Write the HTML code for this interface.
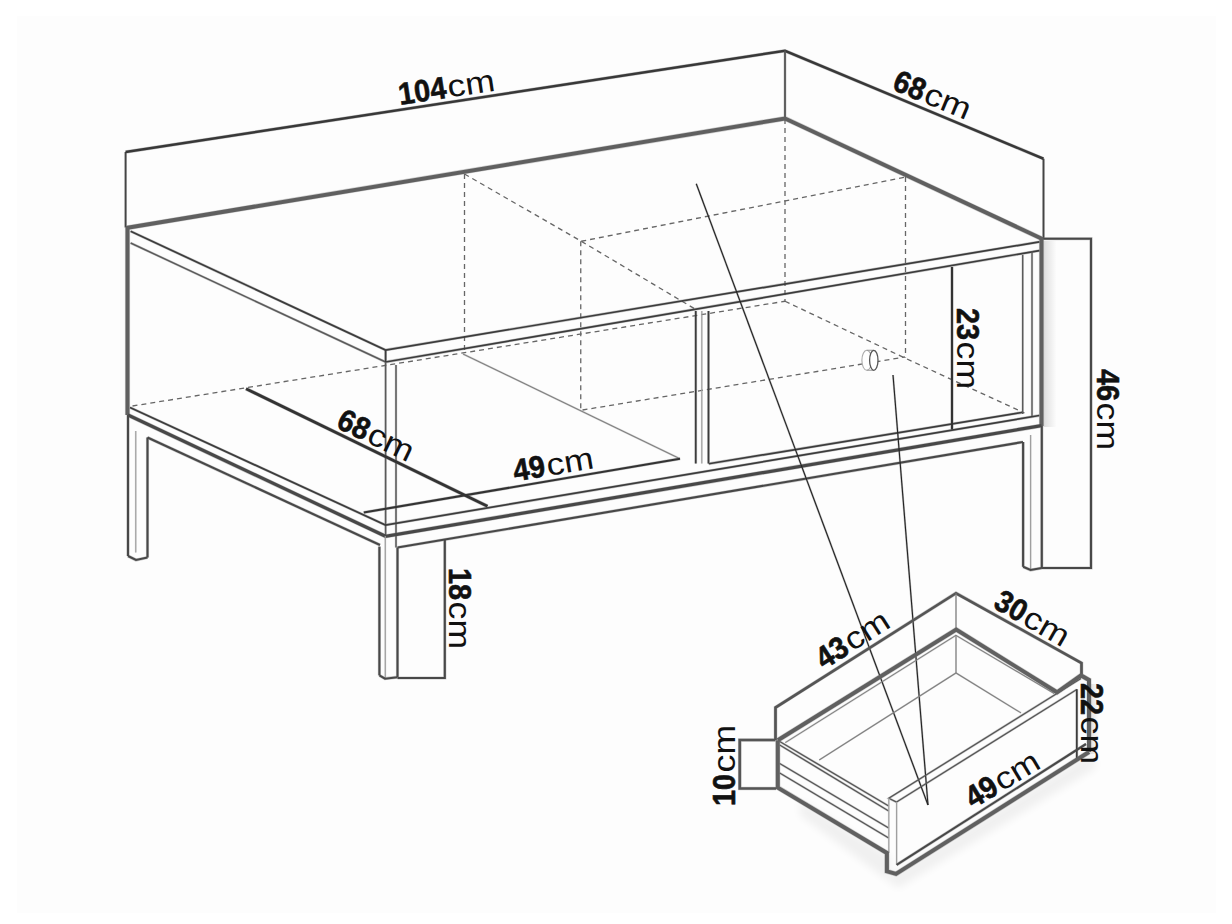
<!DOCTYPE html>
<html><head><meta charset="utf-8"><style>
html,body{margin:0;padding:0;background:#fff;}
svg{display:block;}
.thick{fill:none;stroke:#606060;stroke-width:4;stroke-linejoin:miter;}
.med{fill:none;stroke:#484848;stroke-width:2.1;}
.dbox{fill:none;stroke:#555;stroke-width:2.7;}
.hdbox{fill:none;stroke:#555;stroke-width:3.7;}
.dlight{fill:none;stroke:#808080;stroke-width:1.1;}
.hdlight{fill:none;stroke:#808080;stroke-width:2;}
.hlight{fill:none;stroke:#a0a0a0;stroke-width:2;}
.dim2{fill:none;stroke:#333;stroke-width:2.1;}
.hdim2{fill:none;stroke:#333;stroke-width:3.1;}
.post{fill:none;stroke:#5a5a5a;stroke-width:1.5;}
.hpost{fill:none;stroke:#5a5a5a;stroke-width:2.5;}
.vbox{fill:none;stroke:#444;stroke-width:1.7;}
.hvbox{fill:none;stroke:#444;stroke-width:2.7;}
.tbox{fill:none;stroke:#383838;stroke-width:2.5;stroke-linejoin:miter;}
.htbox{fill:none;stroke:#383838;stroke-width:3.5;}
.light{fill:none;stroke:#a0a0a0;stroke-width:1.2;}
.thin{fill:none;stroke:#3c3c3c;stroke-width:1.7;}
.thin2{fill:none;stroke:#555;stroke-width:1.8;}
.hair{fill:none;stroke:#555;stroke-width:1.3;}
.dash{fill:none;stroke:#666;stroke-width:1.3;stroke-dasharray:5 4;}
.dim{fill:none;stroke:#333;stroke-width:2.8;}
.frameB{fill:none;stroke:#484848;stroke-width:3.2;}
.lead{fill:none;stroke:#222;stroke-width:1.1;}
.hthick{fill:none;stroke:#606060;stroke-width:5.2;}
.hmed{fill:none;stroke:#484848;stroke-width:3.2;}
.hthin{fill:none;stroke:#3c3c3c;stroke-width:2.8;}
.hthin2{fill:none;stroke:#555;stroke-width:2.9;}
.hhair{fill:none;stroke:#555;stroke-width:2.4;}
.hdim{fill:none;stroke:#333;stroke-width:3.9;}
.hframeB{fill:none;stroke:#484848;stroke-width:4.3;}
.hlead{fill:none;stroke:#222;stroke-width:2.1;}
.t{font-family:"Liberation Sans",sans-serif;fill:#111;}
.tb{font-weight:bold;stroke:#111;}
</style></head><body>
<svg width="1232" height="924" viewBox="0 0 1232 924">
<rect width="1232" height="924" fill="#fff"/><rect x="17" y="16" width="1199" height="897" fill="#fdfdfd"/>
<defs><linearGradient id="gR" x1="0" x2="1" y1="0" y2="0"><stop offset="0" stop-color="#000" stop-opacity="0.13"/><stop offset="1" stop-color="#000" stop-opacity="0"/></linearGradient><filter id="blr" x="-20%" y="-20%" width="140%" height="140%"><feGaussianBlur stdDeviation="4"/></filter></defs>
<rect x="1043.5" y="241" width="13" height="186" fill="url(#gR)"/>
<rect x="1089" y="684" width="10" height="70" fill="url(#gR)"/>
<path d="M800,800L890,856L890,876L1092,752L1096,768L898,888L800,815Z" fill="#000" opacity="0.05" filter="url(#blr)"/>
<g opacity="0.28">
<path class="hvbox" d="M125.6,227.5L125.6,152"/>
<path class="hvbox" d="M1043.5,158.75L1043.5,239"/>
<path class="htbox" d="M125.6,152L785,50.8L1043.5,158.75"/>
<path class="hthin2" d="M785,50.6L785,118"/>
<path class="hthick" d="M126,228L785,118.5L1043.5,239.5"/>
<path class="hthick" d="M127.5,227.5L127.5,415"/>
<path class="hthick" d="M1041.5,239L1041.5,426"/>
<path class="hthin" d="M130.6,231.25L385.6,350L1039.4,241.9"/>
<path class="hpost" d="M130.6,243L385.6,362"/>
<path class="hthin" d="M385.6,362L1039.4,250.6"/>
<path class="hthin" d="M385.6,350L385.6,362"/>
<path class="hpost" d="M385.6,362L385.6,536"/>
<path class="hpost" d="M396,365L396,547.5"/>
<path class="hthin" d="M695.75,311L695.75,463.5"/>
<path class="hlight" d="M701.8,311L701.8,463.5"/>
<path class="hthin" d="M708.5,311L708.5,463.5"/>
<path class="hthin" d="M708.75,463.75L1022,412.5"/>
<path class="hdlight" d="M463,354L680,458.75"/>
<path class="hhair" d="M1022.7,254.9L1022.7,414"/>
<path class="hhair" d="M1032,251L1032,416.7"/>
<path class="hthin" d="M130,407.5L385.5,525L1039.3,415.5"/>
<path class="hframeB" d="M128,415L385.5,536.25L1041.5,425.7"/>
<path class="hmed" d="M147.5,437.5L380,545"/>
<path class="hmed" d="M397.5,547.5L1023,442"/>
<path class="hmed" d="M128,415L128,556"/>
<path class="hlight" d="M135.75,431L135.75,552.5"/>
<path class="hmed" d="M147.5,437.5L147.5,557.5"/>
<path class="hmed" d="M128,556L136,560L147.5,557.5"/>
<path class="hmed" d="M379.4,546.6L379.4,675.4"/>
<path class="hlight" d="M385.3,536L385.3,678"/>
<path class="hmed" d="M397.5,547.5L397.5,677"/>
<path class="hmed" d="M379.4,675.4L385,678.7L397.5,677.2"/>
<path class="hmed" d="M397.5,678L444.8,678L444.8,540"/>
<path class="hmed" d="M1041.8,426L1041.8,568"/>
<path class="hlight" d="M1030.6,435L1030.6,569.3"/>
<path class="hmed" d="M1023.1,442L1023.1,566.8"/>
<path class="hmed" d="M1023.1,566.8L1030.6,570L1041.8,568"/>
<path class="hmed" d="M1043.5,238.7L1091,238.7L1091,568L1041.8,568"/>
<path class="hdim2" d="M952,267L952,429.5"/>
<path class="hdim" d="M246,388.75L487.5,506.25"/>
<path class="hdim2" d="M363.75,512.5L680,458.75"/>
<path class="hlead" d="M696.25,183.75L928,805"/>
<path class="hlead" d="M893,375L928,805"/>
<path class="hdbox" d="M775.5,740L775.5,707.5L956,593.2L1081.5,663L1081.5,674"/>
<path class="hdlight" d="M956,593.2L956,629.5"/>
<path class="hdlight" d="M785.3,742.6L955.9,635.4L1054.2,693.5"/>
<path class="hdlight" d="M956,635.4L956,673"/>
<path class="hdlight" d="M819.2,760L956,673L1021,712.9"/>
<path class="hhair" d="M779.7,741.5L888.7,806"/>
<path class="hhair" d="M779.7,745L888.7,811"/>
<path class="hhair" d="M779.7,763.5L888.7,828"/>
<path class="hhair" d="M779.7,773L888.7,838"/>
<path class="hhair" d="M1081,678.5L888.8,798.3L896.6,802.2"/>
<path class="hhair" d="M896.6,802L1076.8,689.5"/>
<path class="hlight" d="M888.8,798L888.8,853"/>
<path class="hlight" d="M896.6,802L896.6,865"/>
<path class="hthin" d="M1076.8,689.2L1076.8,760.6"/>
<path class="hmed" d="M896.6,864.8L1086,744"/>
<path class="hthick" d="M777.8,740.3L956.2,629.5L1057,692.3L1081,675.4L1089,680L1089,752"/>
<path class="hthick" d="M777.8,740.3L777.8,787.6L886.9,853L886.9,871.3L896,873.9L1089,752"/>
<path class="hdbox" d="M775.5,740L739.75,740L739.75,788.5L776,788.5"/>
</g>
<path class="vbox" d="M125.6,227.5L125.6,152"/>
<path class="vbox" d="M1043.5,158.75L1043.5,239"/>
<path class="tbox" d="M125.6,152L785,50.8L1043.5,158.75"/>
<path class="thin2" d="M785,50.6L785,118"/>
<path class="dash" d="M464.5,174L464.5,354"/>
<path class="dash" d="M464.5,174L581.25,241.25L695,309"/>
<path class="dash" d="M580.75,241.25L580.75,410"/>
<path class="dash" d="M581.25,241.25L905.5,177"/>
<path class="dash" d="M785,119L785,301.25"/>
<path class="dash" d="M905.5,177L905.5,357.5"/>
<path class="dash" d="M785,301.25L903.75,357.5L1024.5,413"/>
<path class="dash" d="M132.5,406L785,301.25"/>
<path class="dash" d="M582.5,410L905,357"/>
<path class="thick" d="M126,228L785,118.5L1043.5,239.5"/>
<path class="thick" d="M127.5,227.5L127.5,415"/>
<path class="thick" d="M1041.5,239L1041.5,426"/>
<path class="thin" d="M130.6,231.25L385.6,350L1039.4,241.9"/>
<path class="post" d="M130.6,243L385.6,362"/>
<path class="thin" d="M385.6,362L1039.4,250.6"/>
<path class="thin" d="M385.6,350L385.6,362"/>
<path class="post" d="M385.6,362L385.6,536"/>
<path class="post" d="M396,365L396,547.5"/>
<path class="thin" d="M695.75,311L695.75,463.5"/>
<path class="light" d="M701.8,311L701.8,463.5"/>
<path class="thin" d="M708.5,311L708.5,463.5"/>
<path class="thin" d="M708.75,463.75L1022,412.5"/>
<path class="dlight" d="M463,354L680,458.75"/>
<path class="hair" d="M1022.7,254.9L1022.7,414"/>
<path class="hair" d="M1032,251L1032,416.7"/>
<path class="thin" d="M130,407.5L385.5,525L1039.3,415.5"/>
<path class="frameB" d="M128,415L385.5,536.25L1041.5,425.7"/>
<path class="med" d="M147.5,437.5L380,545"/>
<path class="med" d="M397.5,547.5L1023,442"/>
<path class="med" d="M128,415L128,556"/>
<path class="light" d="M135.75,431L135.75,552.5"/>
<path class="med" d="M147.5,437.5L147.5,557.5"/>
<path class="med" d="M128,556L136,560L147.5,557.5"/>
<path class="med" d="M379.4,546.6L379.4,675.4"/>
<path class="light" d="M385.3,536L385.3,678"/>
<path class="med" d="M397.5,547.5L397.5,677"/>
<path class="med" d="M379.4,675.4L385,678.7L397.5,677.2"/>
<path class="med" d="M397.5,678L444.8,678L444.8,540"/>
<path class="med" d="M1041.8,426L1041.8,568"/>
<path class="light" d="M1030.6,435L1030.6,569.3"/>
<path class="med" d="M1023.1,442L1023.1,566.8"/>
<path class="med" d="M1023.1,566.8L1030.6,570L1041.8,568"/>
<path class="med" d="M1043.5,238.7L1091,238.7L1091,568L1041.8,568"/>
<path class="dim2" d="M952,267L952,429.5"/>
<path class="dim" d="M246,388.75L487.5,506.25"/>
<path class="dim2" d="M363.75,512.5L680,458.75"/>
<ellipse cx="866.8" cy="360.3" rx="4.9" ry="10" fill="#fff" stroke="#aaa" stroke-width="1.1"/>
<path d="M866.8,350.3L873.8,350.3M866.8,370.3L873.8,370.3" stroke="#999" stroke-width="1.1" fill="none"/>
<ellipse cx="873.8" cy="360.3" rx="4.2" ry="10" fill="#fff" stroke="#555" stroke-width="1.3"/>
<path class="lead" d="M696.25,183.75L928,805"/>
<path class="lead" d="M893,375L928,805"/>
<path class="dbox" d="M775.5,740L775.5,707.5L956,593.2L1081.5,663L1081.5,674"/>
<path class="dlight" d="M956,593.2L956,629.5"/>
<path class="dlight" d="M785.3,742.6L955.9,635.4L1054.2,693.5"/>
<path class="dlight" d="M956,635.4L956,673"/>
<path class="dlight" d="M819.2,760L956,673L1021,712.9"/>
<path class="hair" d="M779.7,741.5L888.7,806"/>
<path class="hair" d="M779.7,745L888.7,811"/>
<path class="hair" d="M779.7,763.5L888.7,828"/>
<path class="hair" d="M779.7,773L888.7,838"/>
<path class="hair" d="M1081,678.5L888.8,798.3L896.6,802.2"/>
<path class="hair" d="M896.6,802L1076.8,689.5"/>
<path class="light" d="M888.8,798L888.8,853"/>
<path class="light" d="M896.6,802L896.6,865"/>
<path class="thin" d="M1076.8,689.2L1076.8,760.6"/>
<path class="med" d="M896.6,864.8L1086,744"/>
<path class="thick" d="M777.8,740.3L956.2,629.5L1057,692.3L1081,675.4L1089,680L1089,752"/>
<path class="thick" d="M777.8,740.3L777.8,787.6L886.9,853L886.9,871.3L896,873.9L1089,752"/>
<path class="dbox" d="M775.5,740L739.75,740L739.75,788.5L776,788.5"/>
<g transform="translate(400,105) rotate(-8.6)"><text class="t tb" transform="scale(0.93,1)" style="font-size:31px;stroke-width:0.6px">104</text><text class="t" transform="translate(49.6,0) scale(1.15,1)" style="font-size:31px">cm</text></g>
<g transform="translate(891,89) rotate(22.7)"><text class="t tb" transform="scale(0.93,1)" style="font-size:31px;stroke-width:0.6px">68</text><text class="t" transform="translate(33.6,0) scale(1.15,1)" style="font-size:31px">cm</text></g>
<g transform="translate(335,427) rotate(25.8)"><text class="t tb" transform="scale(0.93,1)" style="font-size:31px;stroke-width:0.6px">68</text><text class="t" transform="translate(33.6,0) scale(1.15,1)" style="font-size:31px">cm</text></g>
<g transform="translate(515,481.5) rotate(-9.6)"><text class="t tb" transform="scale(0.93,1)" style="font-size:31px;stroke-width:0.6px">49</text><text class="t" transform="translate(33.6,0) scale(1.15,1)" style="font-size:31px">cm</text></g>
<g transform="translate(957,308) rotate(90)"><text class="t tb" transform="scale(0.93,1)" style="font-size:31px;stroke-width:0.6px">23</text><text class="t" transform="translate(33.6,0) scale(1.15,1)" style="font-size:31px">cm</text></g>
<g transform="translate(1097,369) rotate(90)"><text class="t tb" transform="scale(0.93,1)" style="font-size:31px;stroke-width:0.6px">46</text><text class="t" transform="translate(33.6,0) scale(1.15,1)" style="font-size:31px">cm</text></g>
<g transform="translate(449,568) rotate(90)"><text class="t tb" transform="scale(0.93,1)" style="font-size:31px;stroke-width:0.6px">18</text><text class="t" transform="translate(33.6,0) scale(1.15,1)" style="font-size:31px">cm</text></g>
<g transform="translate(824,670) rotate(-32.7)"><text class="t tb" transform="scale(0.93,1)" style="font-size:31px;stroke-width:0.6px">43</text><text class="t" transform="translate(33.6,0) scale(1.15,1)" style="font-size:31px">cm</text></g>
<g transform="translate(992,607) rotate(30)"><text class="t tb" transform="scale(0.93,1)" style="font-size:31px;stroke-width:0.6px">30</text><text class="t" transform="translate(33.6,0) scale(1.15,1)" style="font-size:31px">cm</text></g>
<g transform="translate(1081,683) rotate(90)"><text class="t tb" transform="scale(0.93,1)" style="font-size:31px;stroke-width:0.6px">22</text><text class="t" transform="translate(33.6,0) scale(1.15,1)" style="font-size:31px">cm</text></g>
<g transform="translate(735,806) rotate(-90)"><text class="t tb" transform="scale(0.93,1)" style="font-size:31px;stroke-width:0.6px">10</text><text class="t" transform="translate(33.6,0) scale(1.15,1)" style="font-size:31px">cm</text></g>
<g transform="translate(973,809) rotate(-31)"><text class="t tb" transform="scale(0.93,1)" style="font-size:31px;stroke-width:0.6px">49</text><text class="t" transform="translate(33.6,0) scale(1.15,1)" style="font-size:31px">cm</text></g>
</svg></body></html>
